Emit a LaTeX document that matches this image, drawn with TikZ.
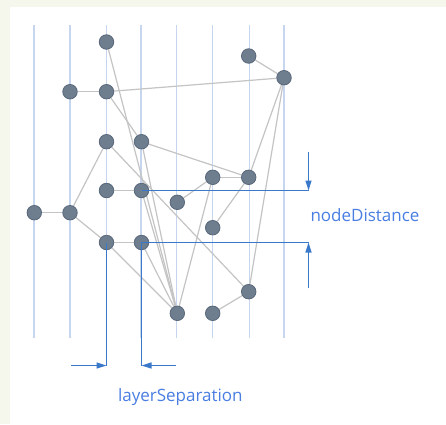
\documentclass[tikz,border=0pt]{standalone}
\usepackage{fontspec}
\setmainfont{Open Sans}
\usetikzlibrary{arrows.meta}
\definecolor{bgbeige}{HTML}{F6F7EC}
\definecolor{guide}{HTML}{C6D6EE}
\definecolor{edgegray}{HTML}{C4C4C4}
\definecolor{nodefill}{HTML}{6E7E8F}
\definecolor{nodeline}{HTML}{58677A}
\definecolor{annot}{HTML}{3A79C9}
\definecolor{labelblue}{HTML}{4A7EE2}
\pgfdeclarelayer{back}
\pgfdeclarelayer{links}
\pgfsetlayers{back,links,main}
\begin{document}
\begin{tikzpicture}[x=1pt,y=-1pt,
  vertex/.style={circle,fill=nodefill,draw=nodeline,line width=0.8pt,minimum size=14.5pt,inner sep=0pt},
  edge/.style={draw=edgegray,line width=1.2pt},
  guideline/.style={draw=guide,line width=1.3pt},
  dim/.style={draw=annot,line width=1.3pt},
  dimarrow/.style={dim,-{Triangle[length=10pt,width=6pt]}},
  dimlabel/.style={text=labelblue,font=\fontsize{17}{20}\selectfont,inner sep=0pt,anchor=base}]

% page background, white panel and layer guides
\begin{pgfonlayer}{back}
\fill[bgbeige] (0,0) rectangle (446,424);
\fill[white] (10,7) rectangle (446,424);
\foreach \gx in {34,70,106.5,141,176.5,212.5,249.5,284}
  \draw[guideline] (\gx,25) -- (\gx,338);
\end{pgfonlayer}
\useasboundingbox (0,0) rectangle (446,424);

% vertices
\node[vertex] (A) at (106.5,42) {};
\node[vertex] (B) at (248.7,56) {};
\node[vertex] (C) at (284,77.7) {};
\node[vertex] (D) at (70,91.7) {};
\node[vertex] (E) at (106.5,91.7) {};
\node[vertex] (F) at (106.5,141.7) {};
\node[vertex] (G) at (141.5,141.7) {};
\node[vertex] (H) at (212.7,177.3) {};
\node[vertex] (I) at (248.7,177.3) {};
\node[vertex] (J) at (106.5,190.5) {};
\node[vertex] (K) at (141.5,190.5) {};
\node[vertex] (L) at (177.3,202.3) {};
\node[vertex] (M) at (34.3,212.7) {};
\node[vertex] (N) at (70,212.7) {};
\node[vertex] (O) at (212.7,227.7) {};
\node[vertex] (P) at (106.5,242.5) {};
\node[vertex] (Q) at (141.5,242.5) {};
\node[vertex] (R) at (248.7,291.7) {};
\node[vertex] (S) at (177.3,313.3) {};
\node[vertex] (T) at (212.7,313.3) {};

% edges, kept below the vertices
\begin{pgfonlayer}{links}
\foreach \a/\b in {A/S,B/C,C/E,C/I,C/R,D/E,E/G,G/I,G/S,F/N,F/R,H/I,L/H,H/S,I/O,J/K,K/S,M/N,N/P,P/Q,P/S,Q/S,R/T}
  \draw[edge] (\a) -- (\b);
\end{pgfonlayer}

% node distance dimension
\coordinate (kEnd) at (308.5,190.5);
\coordinate (kArrow) at (308.5,151.7);
\coordinate (qEnd) at (308.5,242.5);
\coordinate (qArrow) at (308.5,288.3);
\coordinate (qLow) at (141.5,365.5);
\draw[dim] (K.center) -- (kEnd);
\draw[dimarrow] (kArrow) -- (kEnd);
\draw[dim] (qLow) -- (Q.center) -- (qEnd);
\draw[dimarrow] (qArrow) -- (qEnd);
\node[dimlabel] (ndLabel) at (365,221.7) {nodeDistance};

% layer separation dimension
\coordinate (pLow) at (106.5,365.5);
\coordinate (pArrow) at (71,365.5);
\coordinate (qArrowR) at (175.7,365.5);
\draw[dim] (P.center) -- (pLow);
\draw[dimarrow] (pArrow) -- (pLow);
\draw[dimarrow] (qArrowR) -- (qLow);
\node[dimlabel] (lsLabel) at (180.3,401.7) {layerSeparation};
\end{tikzpicture}
\end{document}
